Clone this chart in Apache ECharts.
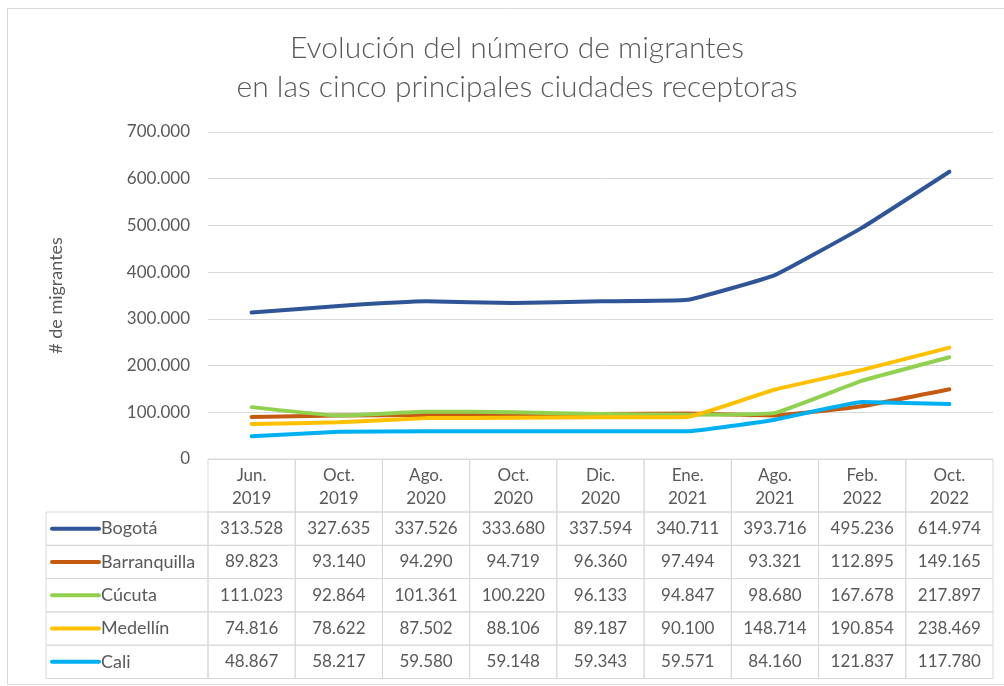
<!DOCTYPE html>
<html>
<head>
<meta charset="utf-8">
<script src="https://cdn.jsdelivr.net/npm/echarts@6/dist/echarts.min.js"></script>
<style>
  html, body { margin: 0; padding: 0; background: #fff; }
  #chart { width: 1004px; height: 686px; }
</style>
</head>
<body>
<div id="chart"></div>
<script>
  'use strict';

  var periods = ['Jun.\n2019', 'Oct.\n2019', 'Ago.\n2020', 'Oct.\n2020', 'Dic.\n2020',
                 'Ene.\n2021', 'Ago.\n2021', 'Feb.\n2022', 'Oct.\n2022'];
  var cities = ['Bogotá', 'Barranquilla', 'Cúcuta', 'Medellín', 'Cali'];
  var colors = ['#2F5597', '#C55A11', '#92D050', '#FFC000', '#00B0F0'];

  var bogota       = [313528, 327635, 337526, 333680, 337594, 340711, 393716, 495236, 614974];
  var barranquilla = [89823, 93140, 94290, 94719, 96360, 97494, 93321, 112895, 149165];
  var cucuta       = [111023, 92864, 101361, 100220, 96133, 94847, 98680, 167678, 217897];
  var medellin     = [74816, 78622, 87502, 88106, 89187, 90100, 148714, 190854, 238469];
  var cali         = [48867, 58217, 59580, 59148, 59343, 59571, 84160, 121837, 117780];

  var values = [bogota, barranquilla, cucuta, medellin, cali];

  var txt = '#595959';
  var border = '#d9d9d9';
  var font = 'Lato, "Open Sans", sans-serif';

  // miles con punto
  function fmt(v) {
    return String(v).replace(/\B(?=(\d{3})+(?!\d))/g, '.');
  }

  var chart = echarts.init(document.getElementById('chart'));

  var series = cities.map(function(name, i) {
    return {
      name: name,
      type: 'line',
      data: values[i],
      smooth: 0.1,
      symbol: 'none',
      z: i === 0 ? 10 : 2 + i,
      lineStyle: { color: colors[i], width: 4, cap: 'round', join: 'round' }
    };
  });

  chart.setOption({
    animation: false,
    textStyle: { fontFamily: font },
    title: {
      text: 'Evolución del número de migrantes\nen las cinco principales ciudades receptoras',
      left: 512,
      top: 24,
      textAlign: 'center',
      textStyle: { color: txt, fontSize: 30, fontWeight: 300, lineHeight: 39, fontFamily: font }
    },
    grid: { left: 208, right: 11, top: 132, bottom: 227 },
    xAxis: {
      type: 'category',
      data: periods,
      boundaryGap: true,
      axisLine: { show: false },
      axisTick: { show: false },
      axisLabel: { color: txt, fontSize: 17, lineHeight: 23, margin: 5, interval: 0 }
    },
    yAxis: {
      type: 'value',
      min: 0,
      max: 700000,
      interval: 100000,
      name: '# de migrantes',
      nameLocation: 'middle',
      nameRotate: 90,
      nameGap: 143,
      nameTextStyle: { color: txt, fontSize: 18 },
      axisLabel: { color: txt, fontSize: 17, margin: 18, formatter: fmt },
      splitLine: { lineStyle: { color: border, width: 1 } }
    },
    series: series
  });

  // tabla de datos bajo el eje
  var x0 = chart.convertToPixel({ xAxisIndex: 0 }, 0);
  var x1 = chart.convertToPixel({ xAxisIndex: 0 }, 1);
  var colW = x1 - x0;
  var tableLeft = x0 - colW / 2;
  var tableTop = chart.convertToPixel({ yAxisIndex: 0 }, 0);
  var headH = 53;
  var rowH = 33.3;
  var labelLeft = 46;

  var els = [{
    type: 'rect',
    shape: { x: 7.5, y: 8.5, width: 1010, height: 676 },
    style: { fill: 'none', stroke: border, lineWidth: 1 },
    silent: true
  }];

  periods.forEach(function(p, i) {
    els.push({
      type: 'rect',
      shape: { x: tableLeft + i * colW, y: tableTop, width: colW, height: headH },
      style: { fill: 'none', stroke: border, lineWidth: 1 },
      silent: true
    });
  });

  cities.forEach(function(name, r) {
    var y = tableTop + headH + r * rowH;
    els.push({
      type: 'rect',
      shape: { x: labelLeft, y: y, width: tableLeft - labelLeft, height: rowH },
      style: { fill: 'none', stroke: border, lineWidth: 1 },
      silent: true
    });
    els.push({
      type: 'line',
      shape: { x1: labelLeft + 6, y1: y + rowH / 2, x2: labelLeft + 53, y2: y + rowH / 2 },
      style: { stroke: colors[r], lineWidth: 4, lineCap: 'round' },
      silent: true
    });
    els.push({
      type: 'text',
      x: labelLeft + 55,
      y: y + rowH / 2,
      style: { text: name, fill: txt, font: '18px ' + font, textAlign: 'left', textVerticalAlign: 'middle' },
      silent: true
    });
    values[r].forEach(function(v, i) {
      els.push({
        type: 'rect',
        shape: { x: tableLeft + i * colW, y: y, width: colW, height: rowH },
        style: { fill: 'none', stroke: border, lineWidth: 1 },
        silent: true
      });
      els.push({
        type: 'text',
        x: tableLeft + i * colW + colW / 2,
        y: y + rowH / 2,
        style: { text: fmt(v), fill: txt, font: '17px ' + font, textAlign: 'center', textVerticalAlign: 'middle' },
        silent: true
      });
    });
  });

  chart.setOption({ graphic: { elements: els } });
</script>
</body>
</html>
